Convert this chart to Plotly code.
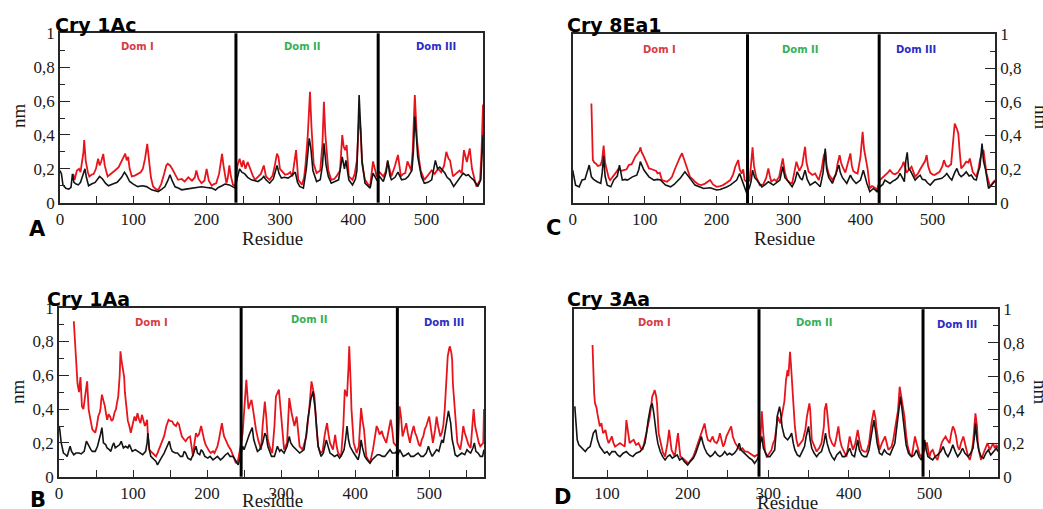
import plotly.graph_objects as go

# ---------------------------------------------------------------------------
# RMSF per residue (nm): (residue, value) pairs for each protein and run
# ---------------------------------------------------------------------------
cry1ac_black = [
    (0, 0.19), (2, 0.17), (4, 0.105), (8, 0.085), (12, 0.08), (15, 0.09), (17, 0.17), (19, 0.12),
    (22, 0.11), (25, 0.105), (28, 0.12), (31, 0.155), (34, 0.2), (36, 0.15), (39, 0.1), (43, 0.11),
    (48, 0.12), (54, 0.155), (58, 0.14), (62, 0.115), (66, 0.1), (72, 0.11), (78, 0.12), (84, 0.15),
    (88, 0.18), (91, 0.16), (95, 0.125), (100, 0.11), (106, 0.095), (112, 0.1), (118, 0.095),
    (125, 0.076), (130, 0.07), (134, 0.066), (139, 0.08), (143, 0.094), (147, 0.13), (150, 0.165),
    (153, 0.13), (157, 0.094), (162, 0.085), (166, 0.076), (172, 0.08), (179, 0.086), (186, 0.09),
    (193, 0.094), (200, 0.09), (207, 0.086), (212, 0.075), (216, 0.09), (221, 0.1), (225, 0.11),
    (231, 0.105), (236, 0.095), (239, 0.086), (242, 0.15), (245, 0.2), (248, 0.18), (252, 0.17),
    (256, 0.15), (261, 0.135), (266, 0.13), (270, 0.125), (275, 0.14), (278, 0.155), (281, 0.135),
    (286, 0.115), (291, 0.14), (296, 0.22), (299, 0.17), (302, 0.145), (306, 0.15), (311, 0.145),
    (316, 0.16), (321, 0.18), (324, 0.12), (327, 0.096), (332, 0.086), (336, 0.2), (340, 0.38),
    (342, 0.33), (345, 0.19), (350, 0.125), (355, 0.135), (358, 0.22), (360, 0.35), (363, 0.22),
    (366, 0.155), (370, 0.115), (375, 0.125), (380, 0.135), (385, 0.27), (388, 0.2), (390, 0.25),
    (394, 0.135), (399, 0.105), (403, 0.14), (405, 0.19), (407, 0.45), (408, 0.635), (410, 0.45),
    (412, 0.25), (416, 0.115), (420, 0.095), (423, 0.086), (427, 0.175), (432, 0.135), (436, 0.155),
    (441, 0.125), (445, 0.18), (447, 0.25), (450, 0.16), (452, 0.135), (457, 0.15), (461, 0.18),
    (466, 0.135), (471, 0.14), (475, 0.155), (480, 0.19), (482, 0.3), (484, 0.508), (486, 0.4),
    (488, 0.27), (493, 0.155), (497, 0.115), (502, 0.12), (507, 0.135), (512, 0.25), (515, 0.2),
    (518, 0.21), (522, 0.19), (525, 0.175), (528, 0.15), (532, 0.135), (537, 0.096), (543, 0.135),
    (547, 0.16), (550, 0.175), (554, 0.16), (557, 0.165), (560, 0.15), (564, 0.135), (570, 0.096),
    (574, 0.135), (577, 0.4),
]
cry1ac_red = [
    (18, 0.17), (20, 0.135), (23, 0.19), (26, 0.2), (28, 0.18), (30, 0.23), (32, 0.3), (33, 0.37),
    (35, 0.25), (38, 0.18), (40, 0.155), (43, 0.165), (46, 0.17), (49, 0.2), (52, 0.26), (54, 0.22),
    (56, 0.24), (59, 0.288), (61, 0.22), (65, 0.155), (70, 0.17), (75, 0.19), (80, 0.21), (84, 0.25),
    (87, 0.28), (89, 0.29), (91, 0.25), (93, 0.27), (95, 0.2), (98, 0.155), (102, 0.16), (106, 0.17),
    (110, 0.18), (113, 0.2), (116, 0.26), (119, 0.347), (121, 0.25), (124, 0.15), (127, 0.096),
    (131, 0.08), (134, 0.076), (138, 0.11), (142, 0.17), (145, 0.22), (147, 0.23), (150, 0.22),
    (153, 0.2), (157, 0.17), (161, 0.135), (166, 0.14), (170, 0.125), (175, 0.15), (180, 0.13),
    (184, 0.15), (186, 0.19), (189, 0.14), (193, 0.115), (197, 0.13), (200, 0.2), (203, 0.13),
    (207, 0.1), (210, 0.11), (213, 0.115), (217, 0.17), (220, 0.25), (221, 0.288), (223, 0.22),
    (227, 0.115), (229, 0.15), (231, 0.22), (233, 0.16), (236, 0.105), (239, 0.1), (242, 0.22),
    (245, 0.26), (248, 0.21), (250, 0.25), (253, 0.2), (256, 0.24), (259, 0.2), (263, 0.16),
    (266, 0.135), (270, 0.15), (274, 0.17), (278, 0.22), (281, 0.155), (286, 0.135), (290, 0.16),
    (293, 0.22), (296, 0.29), (298, 0.27), (300, 0.2), (304, 0.18), (307, 0.165), (311, 0.17),
    (314, 0.18), (317, 0.155), (320, 0.24), (322, 0.31), (325, 0.135), (330, 0.106), (333, 0.15),
    (335, 0.23), (338, 0.4), (341, 0.655), (343, 0.45), (346, 0.23), (350, 0.175), (355, 0.19),
    (358, 0.35), (360, 0.596), (362, 0.4), (366, 0.19), (370, 0.135), (374, 0.14), (377, 0.155),
    (382, 0.19), (385, 0.4), (387, 0.33), (389, 0.31), (391, 0.34), (394, 0.155), (399, 0.135),
    (402, 0.17), (405, 0.25), (408, 0.508), (410, 0.43), (412, 0.23), (416, 0.135), (420, 0.11),
    (423, 0.096), (427, 0.244), (430, 0.2), (432, 0.155), (436, 0.18), (441, 0.155), (444, 0.18),
    (447, 0.244), (450, 0.19), (452, 0.155), (457, 0.22), (461, 0.282), (465, 0.155), (468, 0.17),
    (471, 0.175), (474, 0.244), (479, 0.19), (481, 0.3), (484, 0.635), (487, 0.37), (490, 0.25),
    (492, 0.19), (497, 0.135), (502, 0.16), (507, 0.19), (511, 0.17), (516, 0.2), (520, 0.18),
    (524, 0.22), (527, 0.3), (530, 0.26), (532, 0.25), (536, 0.155), (541, 0.175), (545, 0.19),
    (548, 0.175), (551, 0.31), (555, 0.24), (559, 0.32), (562, 0.2), (564, 0.165), (568, 0.096),
    (573, 0.135), (575, 0.3), (577, 0.58),
]

cry8ea1_black = [
    (0, 0.195), (4, 0.106), (9, 0.096), (13, 0.136), (17, 0.14), (20, 0.18), (23, 0.225), (26, 0.155),
    (29, 0.14), (34, 0.126), (39, 0.116), (41, 0.18), (43, 0.28), (45, 0.16), (48, 0.106), (53, 0.096),
    (57, 0.136), (62, 0.16), (65, 0.225), (69, 0.136), (73, 0.14), (76, 0.136), (80, 0.15), (83, 0.155),
    (89, 0.165), (92, 0.2), (94, 0.245), (97, 0.21), (99, 0.195), (106, 0.155), (113, 0.136),
    (118, 0.14), (122, 0.136), (129, 0.106), (136, 0.096), (141, 0.11), (145, 0.126), (150, 0.15),
    (156, 0.185), (160, 0.16), (163, 0.146), (170, 0.106), (176, 0.095), (182, 0.086), (191, 0.09),
    (196, 0.085), (200, 0.077), (205, 0.08), (209, 0.085), (214, 0.095), (219, 0.106), (224, 0.12),
    (228, 0.136), (232, 0.175), (235, 0.14), (237, 0.116), (240, 0.08), (242, 0.057), (246, 0.096),
    (248, 0.13), (250, 0.195), (253, 0.15), (256, 0.136), (263, 0.096), (268, 0.11), (272, 0.126),
    (279, 0.106), (283, 0.12), (288, 0.136), (292, 0.215), (295, 0.15), (298, 0.136), (305, 0.096),
    (309, 0.13), (312, 0.185), (316, 0.15), (319, 0.136), (323, 0.195), (326, 0.14), (330, 0.106),
    (337, 0.126), (341, 0.11), (344, 0.096), (348, 0.18), (351, 0.323), (353, 0.2), (356, 0.15),
    (361, 0.116), (365, 0.16), (370, 0.225), (372, 0.18), (375, 0.15), (381, 0.116), (386, 0.165),
    (389, 0.14), (394, 0.116), (400, 0.136), (404, 0.195), (409, 0.116), (413, 0.067), (418, 0.086),
    (423, 0.067), (427, 0.096), (431, 0.11), (434, 0.136), (441, 0.116), (445, 0.13), (448, 0.136),
    (452, 0.15), (455, 0.175), (461, 0.126), (463, 0.25), (465, 0.3), (467, 0.2), (469, 0.195),
    (476, 0.136), (479, 0.15), (483, 0.165), (486, 0.14), (490, 0.136), (493, 0.12), (497, 0.106),
    (503, 0.136), (508, 0.14), (513, 0.146), (517, 0.16), (520, 0.175), (524, 0.15), (527, 0.136),
    (531, 0.18), (534, 0.205), (537, 0.17), (540, 0.156), (544, 0.17), (547, 0.185), (551, 0.16),
    (554, 0.166), (558, 0.14), (561, 0.136), (564, 0.19), (566, 0.215), (569, 0.353), (571, 0.25),
    (574, 0.195), (578, 0.086), (581, 0.1), (584, 0.116), (587, 0.13),
]
cry8ea1_red = [
    (26, 0.59), (27, 0.4), (28, 0.255), (30, 0.24), (32, 0.235), (35, 0.22), (39, 0.225), (41, 0.26),
    (43, 0.34), (45, 0.24), (47, 0.195), (50, 0.15), (52, 0.135), (55, 0.15), (57, 0.165), (60, 0.18),
    (64, 0.205), (67, 0.19), (71, 0.195), (75, 0.2), (78, 0.225), (82, 0.23), (87, 0.275), (90, 0.29),
    (93, 0.31), (94, 0.33), (96, 0.3), (99, 0.275), (102, 0.24), (106, 0.205), (110, 0.2), (113, 0.195),
    (116, 0.19), (118, 0.175), (121, 0.18), (124, 0.136), (128, 0.13), (131, 0.126), (135, 0.14),
    (138, 0.155), (142, 0.2), (145, 0.234), (149, 0.27), (152, 0.295), (154, 0.27), (156, 0.245),
    (159, 0.2), (163, 0.155), (167, 0.14), (170, 0.126), (175, 0.11), (179, 0.106), (184, 0.115),
    (188, 0.125), (191, 0.136), (195, 0.11), (200, 0.096), (205, 0.1), (209, 0.106), (214, 0.12),
    (219, 0.136), (223, 0.17), (226, 0.215), (230, 0.255), (232, 0.2), (235, 0.175), (237, 0.2),
    (239, 0.136), (243, 0.12), (246, 0.136), (248, 0.25), (250, 0.33), (252, 0.22), (255, 0.155),
    (260, 0.106), (265, 0.11), (269, 0.15), (272, 0.205), (274, 0.16), (276, 0.126), (280, 0.14),
    (283, 0.13), (287, 0.156), (292, 0.264), (295, 0.18), (298, 0.136), (302, 0.12), (305, 0.116),
    (308, 0.18), (311, 0.245), (315, 0.19), (319, 0.225), (321, 0.28), (323, 0.333), (325, 0.24),
    (328, 0.185), (333, 0.166), (337, 0.175), (342, 0.136), (346, 0.2), (349, 0.28), (351, 0.304),
    (353, 0.22), (356, 0.17), (361, 0.136), (366, 0.17), (368, 0.23), (371, 0.284), (373, 0.24),
    (375, 0.215), (379, 0.18), (383, 0.24), (386, 0.294), (388, 0.22), (390, 0.19), (393, 0.18),
    (396, 0.175), (400, 0.274), (403, 0.422), (405, 0.32), (407, 0.274), (410, 0.2), (413, 0.086),
    (416, 0.1), (418, 0.096), (423, 0.08), (427, 0.136), (431, 0.15), (434, 0.166), (438, 0.18),
    (441, 0.195), (445, 0.175), (448, 0.17), (452, 0.18), (455, 0.2), (458, 0.22), (460, 0.245),
    (464, 0.18), (468, 0.2), (471, 0.215), (476, 0.156), (480, 0.175), (483, 0.2), (486, 0.22),
    (490, 0.25), (492, 0.284), (494, 0.22), (497, 0.18), (500, 0.17), (503, 0.166), (507, 0.18),
    (510, 0.185), (514, 0.22), (516, 0.254), (519, 0.22), (522, 0.215), (526, 0.23), (529, 0.35),
    (531, 0.471), (534, 0.44), (536, 0.412), (538, 0.3), (540, 0.205), (543, 0.22), (547, 0.245),
    (550, 0.24), (552, 0.264), (556, 0.185), (561, 0.156), (564, 0.2), (566, 0.254), (569, 0.3),
    (571, 0.314), (575, 0.18), (578, 0.12), (580, 0.096), (584, 0.12), (587, 0.136),
]

cry1aa_black = [
    (0, 0.3), (1, 0.28), (3, 0.2), (6, 0.14), (9, 0.13), (11, 0.12), (13, 0.15), (15, 0.18), (17, 0.15),
    (20, 0.13), (23, 0.14), (27, 0.14), (30, 0.135), (34, 0.15), (37, 0.21), (40, 0.18), (43, 0.16),
    (45, 0.15), (49, 0.15), (52, 0.18), (54, 0.21), (56, 0.25), (58, 0.29), (60, 0.2), (63, 0.19),
    (65, 0.17), (68, 0.16), (70, 0.15), (72, 0.18), (74, 0.2), (76, 0.17), (79, 0.18), (82, 0.19),
    (84, 0.21), (87, 0.17), (90, 0.18), (93, 0.17), (95, 0.19), (99, 0.15), (103, 0.16), (106, 0.15),
    (110, 0.14), (113, 0.13), (117, 0.15), (119, 0.2), (120, 0.258), (122, 0.16), (124, 0.12),
    (128, 0.1), (131, 0.09), (133, 0.07), (136, 0.09), (138, 0.11), (142, 0.14), (145, 0.17),
    (149, 0.21), (151, 0.17), (153, 0.15), (157, 0.14), (160, 0.14), (164, 0.12), (167, 0.12),
    (169, 0.15), (171, 0.14), (174, 0.11), (178, 0.1), (181, 0.13), (185, 0.18), (187, 0.14),
    (190, 0.13), (192, 0.16), (194, 0.15), (197, 0.12), (201, 0.11), (204, 0.12), (208, 0.1),
    (211, 0.11), (214, 0.12), (218, 0.1), (221, 0.11), (225, 0.13), (228, 0.14), (231, 0.12),
    (235, 0.12), (238, 0.1), (242, 0.07), (245, 0.12), (248, 0.18), (250, 0.16), (253, 0.2),
    (257, 0.25), (261, 0.29), (263, 0.22), (265, 0.19), (268, 0.15), (271, 0.16), (275, 0.2),
    (278, 0.258), (280, 0.24), (282, 0.18), (284, 0.16), (287, 0.12), (291, 0.12), (295, 0.18),
    (298, 0.15), (300, 0.16), (304, 0.14), (308, 0.18), (311, 0.238), (313, 0.2), (316, 0.18),
    (320, 0.16), (325, 0.14), (328, 0.15), (331, 0.16), (334, 0.25), (336, 0.337), (340, 0.455),
    (343, 0.505), (346, 0.4), (348, 0.3), (350, 0.18), (354, 0.12), (357, 0.14), (361, 0.218),
    (363, 0.18), (366, 0.14), (369, 0.13), (372, 0.12), (376, 0.13), (379, 0.11), (382, 0.13),
    (385, 0.16), (387, 0.22), (389, 0.3), (391, 0.22), (393, 0.18), (398, 0.14), (401, 0.12),
    (404, 0.1), (406, 0.14), (408, 0.218), (410, 0.17), (413, 0.12), (416, 0.1), (420, 0.08),
    (423, 0.1), (427, 0.12), (430, 0.13), (433, 0.13), (437, 0.12), (440, 0.12), (444, 0.14),
    (447, 0.16), (450, 0.14), (454, 0.14), (456, 0.15), (458, 0.13), (460, 0.16), (463, 0.13),
    (465, 0.12), (469, 0.13), (472, 0.14), (475, 0.12), (479, 0.12), (482, 0.13), (485, 0.14),
    (489, 0.12), (492, 0.12), (496, 0.14), (499, 0.18), (501, 0.15), (504, 0.12), (507, 0.14),
    (510, 0.16), (513, 0.15), (517, 0.218), (519, 0.2), (521, 0.258), (523, 0.3), (526, 0.39),
    (529, 0.317), (531, 0.22), (533, 0.18), (535, 0.13), (538, 0.12), (541, 0.13), (544, 0.14),
    (548, 0.13), (551, 0.16), (553, 0.15), (556, 0.14), (559, 0.17), (561, 0.2), (563, 0.15),
    (566, 0.14), (569, 0.12), (572, 0.12), (574, 0.16),
]
cry1aa_red = [
    (20, 0.92), (21, 0.85), (22, 0.77), (23, 0.65), (24, 0.59), (25, 0.55), (27, 0.5), (28, 0.55),
    (29, 0.59), (30, 0.5), (31, 0.416), (33, 0.4), (35, 0.45), (36, 0.5), (38, 0.564), (39, 0.48),
    (40, 0.4), (42, 0.35), (45, 0.28), (47, 0.27), (49, 0.26), (51, 0.3), (53, 0.356), (55, 0.38),
    (56, 0.4), (57, 0.45), (58, 0.485), (60, 0.45), (62, 0.416), (64, 0.36), (65, 0.337), (67, 0.37),
    (69, 0.356), (71, 0.33), (73, 0.34), (75, 0.38), (77, 0.4), (78, 0.43), (80, 0.475), (82, 0.6),
    (83, 0.742), (84, 0.7), (86, 0.643), (88, 0.59), (89, 0.5), (91, 0.4), (93, 0.33), (95, 0.3),
    (97, 0.26), (99, 0.3), (101, 0.34), (102, 0.356), (104, 0.33), (106, 0.376), (108, 0.34),
    (110, 0.317), (112, 0.366), (114, 0.33), (116, 0.3), (118, 0.32), (119, 0.337), (120, 0.25),
    (122, 0.16), (124, 0.15), (126, 0.14), (128, 0.13), (131, 0.12), (133, 0.14), (135, 0.16),
    (138, 0.2), (140, 0.22), (142, 0.24), (145, 0.3), (148, 0.337), (150, 0.33), (153, 0.327),
    (155, 0.31), (158, 0.3), (160, 0.32), (162, 0.31), (164, 0.27), (166, 0.238), (169, 0.22),
    (171, 0.21), (174, 0.23), (177, 0.238), (179, 0.18), (181, 0.12), (183, 0.2), (185, 0.258),
    (187, 0.24), (189, 0.25), (192, 0.3), (194, 0.25), (196, 0.218), (198, 0.19), (201, 0.16),
    (203, 0.15), (205, 0.14), (208, 0.15), (210, 0.14), (212, 0.16), (214, 0.18), (216, 0.22),
    (218, 0.28), (220, 0.317), (222, 0.26), (223, 0.238), (225, 0.22), (227, 0.198), (229, 0.18),
    (232, 0.16), (235, 0.12), (237, 0.1), (239, 0.08), (242, 0.1), (244, 0.14), (246, 0.2),
    (248, 0.258), (250, 0.4), (253, 0.574), (255, 0.45), (256, 0.4), (258, 0.43), (260, 0.455),
    (262, 0.4), (264, 0.337), (266, 0.28), (269, 0.218), (271, 0.18), (273, 0.16), (275, 0.3),
    (278, 0.445), (280, 0.35), (282, 0.218), (285, 0.17), (288, 0.14), (291, 0.3), (293, 0.475),
    (297, 0.515), (300, 0.337), (302, 0.24), (304, 0.16), (308, 0.2), (310, 0.38), (311, 0.465),
    (314, 0.38), (316, 0.337), (318, 0.3), (321, 0.356), (323, 0.25), (325, 0.18), (329, 0.16),
    (332, 0.2), (334, 0.238), (336, 0.32), (338, 0.4), (341, 0.564), (343, 0.52), (345, 0.475),
    (348, 0.277), (350, 0.18), (353, 0.14), (356, 0.15), (359, 0.25), (362, 0.317), (364, 0.25),
    (366, 0.2), (370, 0.16), (373, 0.248), (375, 0.18), (377, 0.14), (381, 0.12), (384, 0.3),
    (386, 0.515), (389, 0.475), (391, 0.65), (392, 0.771), (394, 0.55), (395, 0.4), (398, 0.2),
    (402, 0.14), (405, 0.18), (407, 0.35), (408, 0.406), (410, 0.33), (412, 0.277), (415, 0.12),
    (420, 0.08), (424, 0.16), (427, 0.25), (429, 0.3), (431, 0.28), (433, 0.25), (436, 0.27),
    (438, 0.238), (442, 0.2), (445, 0.26), (448, 0.337), (450, 0.28), (452, 0.2), (456, 0.18),
    (458, 0.2), (460, 0.416), (462, 0.35), (464, 0.238), (467, 0.28), (469, 0.317), (471, 0.26),
    (474, 0.2), (476, 0.25), (479, 0.3), (481, 0.26), (483, 0.238), (486, 0.19), (488, 0.18),
    (490, 0.22), (492, 0.238), (494, 0.28), (496, 0.3), (500, 0.356), (502, 0.28), (505, 0.2),
    (508, 0.28), (510, 0.356), (512, 0.3), (515, 0.238), (517, 0.26), (519, 0.3), (521, 0.4),
    (522, 0.495), (524, 0.62), (525, 0.712), (527, 0.76), (528, 0.771), (530, 0.73), (531, 0.692),
    (532, 0.55), (534, 0.416), (536, 0.3), (538, 0.2), (540, 0.18), (542, 0.16), (544, 0.22),
    (546, 0.3), (548, 0.26), (551, 0.22), (553, 0.19), (556, 0.17), (558, 0.3), (560, 0.4),
    (562, 0.3), (565, 0.238), (567, 0.2), (569, 0.18), (572, 0.2), (573, 0.2), (574, 0.4),
]

cry3aa_black = [
    (60, 0.42), (61, 0.33), (63, 0.22), (65, 0.19), (67, 0.18), (70, 0.17), (73, 0.15), (76, 0.17),
    (79, 0.18), (81, 0.22), (83, 0.26), (86, 0.28), (88, 0.22), (91, 0.18), (94, 0.16), (97, 0.14),
    (100, 0.15), (103, 0.13), (106, 0.15), (110, 0.15), (113, 0.13), (116, 0.12), (120, 0.14),
    (124, 0.15), (128, 0.13), (132, 0.12), (136, 0.14), (141, 0.15), (144, 0.17), (147, 0.2),
    (149, 0.26), (151, 0.338), (154, 0.418), (156, 0.438), (158, 0.38), (159, 0.33), (161, 0.26),
    (163, 0.2), (166, 0.15), (169, 0.12), (172, 0.1), (175, 0.12), (178, 0.13), (181, 0.11),
    (184, 0.12), (187, 0.13), (190, 0.1), (193, 0.11), (196, 0.09), (200, 0.07), (203, 0.09),
    (207, 0.11), (210, 0.14), (213, 0.18), (217, 0.24), (219, 0.2), (221, 0.17), (224, 0.14),
    (228, 0.12), (231, 0.13), (234, 0.15), (237, 0.13), (240, 0.12), (243, 0.13), (246, 0.15),
    (249, 0.13), (252, 0.14), (255, 0.13), (258, 0.14), (261, 0.16), (264, 0.2), (266, 0.16),
    (270, 0.14), (273, 0.13), (277, 0.11), (280, 0.1), (283, 0.08), (286, 0.1), (288, 0.12),
    (290, 0.2), (292, 0.24), (294, 0.17), (296, 0.15), (299, 0.12), (302, 0.12), (305, 0.14),
    (308, 0.16), (310, 0.28), (311, 0.358), (314, 0.418), (316, 0.36), (317, 0.3), (320, 0.24),
    (322, 0.23), (324, 0.22), (327, 0.24), (329, 0.26), (331, 0.2), (333, 0.16), (336, 0.13),
    (339, 0.12), (342, 0.15), (345, 0.18), (347, 0.24), (350, 0.3), (352, 0.22), (354, 0.17),
    (357, 0.14), (360, 0.12), (363, 0.14), (366, 0.15), (369, 0.2), (371, 0.26), (373, 0.2),
    (376, 0.15), (379, 0.12), (382, 0.1), (385, 0.13), (389, 0.15), (392, 0.12), (395, 0.12),
    (398, 0.14), (401, 0.17), (404, 0.13), (407, 0.12), (409, 0.17), (411, 0.22), (413, 0.16),
    (416, 0.13), (419, 0.12), (422, 0.12), (425, 0.16), (428, 0.24), (431, 0.338), (433, 0.28),
    (435, 0.2), (438, 0.14), (441, 0.13), (444, 0.16), (447, 0.14), (451, 0.13), (454, 0.16),
    (457, 0.2), (459, 0.28), (461, 0.358), (464, 0.478), (466, 0.4), (467, 0.358), (469, 0.25),
    (471, 0.19), (474, 0.14), (478, 0.12), (481, 0.13), (484, 0.16), (487, 0.12), (490, 0.1),
    (492, 0.14), (494, 0.22), (496, 0.16), (498, 0.12), (501, 0.11), (504, 0.1), (507, 0.12),
    (510, 0.13), (514, 0.15), (517, 0.18), (520, 0.14), (523, 0.12), (526, 0.15), (529, 0.19),
    (532, 0.15), (535, 0.12), (538, 0.14), (541, 0.17), (544, 0.14), (548, 0.12), (551, 0.14),
    (554, 0.17), (556, 0.25), (557, 0.318), (559, 0.22), (561, 0.16), (564, 0.12), (567, 0.11),
    (570, 0.14), (573, 0.16), (576, 0.13), (579, 0.15), (583, 0.17), (585, 0.15),
]
cry3aa_red = [
    (82, 0.786), (83, 0.6), (84, 0.5), (85, 0.44), (87, 0.41), (88, 0.378), (90, 0.33), (91, 0.3),
    (93, 0.32), (95, 0.26), (97, 0.27), (98, 0.28), (100, 0.23), (102, 0.2), (104, 0.22), (106, 0.24),
    (108, 0.2), (110, 0.18), (113, 0.19), (116, 0.2), (119, 0.19), (122, 0.18), (124, 0.338),
    (126, 0.25), (128, 0.2), (130, 0.21), (133, 0.22), (136, 0.19), (139, 0.2), (142, 0.17),
    (144, 0.16), (146, 0.2), (148, 0.24), (151, 0.3), (153, 0.358), (155, 0.43), (156, 0.478),
    (158, 0.5), (159, 0.517), (161, 0.48), (162, 0.438), (164, 0.26), (167, 0.2), (169, 0.15),
    (172, 0.12), (175, 0.2), (177, 0.28), (179, 0.2), (180, 0.16), (184, 0.12), (186, 0.18),
    (188, 0.26), (190, 0.16), (191, 0.12), (194, 0.11), (196, 0.1), (199, 0.09), (201, 0.08),
    (204, 0.1), (207, 0.12), (210, 0.16), (213, 0.2), (215, 0.23), (217, 0.26), (219, 0.28),
    (221, 0.318), (223, 0.26), (225, 0.22), (228, 0.21), (231, 0.24), (233, 0.21), (236, 0.2),
    (238, 0.22), (240, 0.26), (242, 0.22), (244, 0.18), (246, 0.2), (248, 0.24), (251, 0.27),
    (254, 0.3), (256, 0.24), (259, 0.2), (262, 0.18), (265, 0.16), (268, 0.17), (271, 0.15),
    (274, 0.15), (277, 0.14), (280, 0.13), (283, 0.12), (286, 0.13), (288, 0.13), (290, 0.2),
    (291, 0.3), (292, 0.39), (294, 0.25), (296, 0.15), (298, 0.12), (300, 0.13), (304, 0.16),
    (306, 0.2), (308, 0.22), (310, 0.28), (312, 0.358), (315, 0.318), (318, 0.398), (320, 0.45),
    (322, 0.577), (324, 0.637), (325, 0.6), (327, 0.746), (328, 0.68), (330, 0.557), (331, 0.45),
    (333, 0.3), (335, 0.22), (337, 0.18), (340, 0.2), (343, 0.22), (346, 0.28), (348, 0.36),
    (351, 0.438), (352, 0.4), (354, 0.22), (357, 0.18), (360, 0.15), (363, 0.17), (366, 0.2),
    (369, 0.3), (370, 0.4), (372, 0.438), (374, 0.35), (376, 0.24), (379, 0.2), (382, 0.18),
    (384, 0.22), (387, 0.3), (389, 0.22), (391, 0.18), (394, 0.15), (397, 0.12), (399, 0.18),
    (401, 0.24), (403, 0.2), (405, 0.16), (408, 0.2), (411, 0.28), (413, 0.22), (416, 0.16),
    (419, 0.15), (422, 0.15), (425, 0.2), (428, 0.318), (431, 0.398), (433, 0.35), (434, 0.3),
    (436, 0.22), (438, 0.16), (441, 0.2), (445, 0.24), (447, 0.2), (449, 0.16), (453, 0.18),
    (455, 0.22), (457, 0.28), (459, 0.33), (461, 0.398), (463, 0.537), (465, 0.478), (467, 0.4),
    (469, 0.358), (471, 0.25), (473, 0.18), (476, 0.13), (478, 0.12), (480, 0.18), (482, 0.24),
    (484, 0.2), (486, 0.16), (488, 0.13), (490, 0.12), (492, 0.14), (494, 0.16), (496, 0.2),
    (497, 0.2), (499, 0.14), (500, 0.12), (502, 0.15), (504, 0.16), (507, 0.12), (510, 0.1),
    (512, 0.14), (515, 0.2), (517, 0.22), (520, 0.24), (522, 0.22), (525, 0.2), (527, 0.26),
    (529, 0.3), (531, 0.28), (533, 0.24), (535, 0.18), (537, 0.16), (539, 0.2), (542, 0.24),
    (544, 0.2), (546, 0.16), (548, 0.12), (550, 0.1), (552, 0.14), (554, 0.2), (556, 0.3),
    (557, 0.378), (559, 0.3), (560, 0.2), (562, 0.14), (564, 0.1), (567, 0.14), (570, 0.18),
    (572, 0.2), (575, 0.16), (577, 0.18), (579, 0.2), (581, 0.17), (583, 0.19), (585, 0.17),
]

# Domain boundaries (residue numbers) of each protein
cry1ac_domains = [240, 434]
cry8ea1_domains = [243, 426]
cry1aa_domains = [246, 457]
cry3aa_domains = [288.5, 492]

y_ticks = [0, 0.2, 0.4, 0.6, 0.8, 1]
y_tick_text = ["0", "0,2", "0,4", "0,6", "0,8", "1"]
x_ticks = [0, 100, 200, 300, 400, 500]
x_tick_text = ["0", "100", "200", "300", "400", "500"]

# ---------------------------------------------------------------------------
W, H = 1043, 509
RED = "#e8141c"
BLACK = "#141414"
FRAME = "#262626"
SERIF = "Liberation Serif, Times New Roman, serif"
SANS = "DejaVu Sans, Verdana, sans-serif"


def fx(p):
    return p / W


def fy(p):
    return 1 - p / H


panels = [
    dict(name="Cry 1Ac", letter="A", black=cry1ac_black, red=cry1ac_red, doms=cry1ac_domains,
         box=(60, 33.3, 483, 202.7), xr=[0, 577], side="left",
         title_xy=(53, 25), letter_xy=(37, 229), residue_xy=(272, 238), nm_xy=(18, 116),
         dom_xy=[(137, 46), (302, 46), (436, 47)]),
    dict(name="Cry 8Ea1", letter="C", black=cry8ea1_black, red=cry8ea1_red, doms=cry8ea1_domains,
         box=(572.7, 34.3, 995, 203), xr=[0, 587], side="right",
         title_xy=(565, 25), letter_xy=(553, 228), residue_xy=(784, 238), nm_xy=(1041, 117),
         dom_xy=[(659, 49), (800, 49), (916, 49)]),
    dict(name="Cry 1Aa", letter="B", black=cry1aa_black, red=cry1aa_red, doms=cry1aa_domains,
         box=(59, 307.7, 484, 476.7), xr=[0, 574], side="left",
         title_xy=(45, 299), letter_xy=(38, 500), residue_xy=(272, 500), nm_xy=(17, 392),
         dom_xy=[(151, 322), (309, 319), (444, 322)]),
    dict(name="Cry 3Aa", letter="D", black=cry3aa_black, red=cry3aa_red, doms=cry3aa_domains,
         box=(574, 309.2, 998, 476.7), xr=[59, 585], side="right",
         title_xy=(565, 299), letter_xy=(562, 497), residue_xy=(787, 502), nm_xy=(1041, 392),
         dom_xy=[(654, 322), (814, 322), (957, 324)]),
]

DOM_NAMES = ["Dom I", "Dom II", "Dom III"]
DOM_COLORS = ["#d83a44", "#36b056", "#2b2bc4"]

fig = go.Figure()
shapes = []
annotations = []
layout_axes = {}

for i, p in enumerate(panels, start=1):
    xa = "x" if i == 1 else f"x{i}"
    ya = "y" if i == 1 else f"y{i}"
    x0, y0, x1, y1 = p["box"]

    for series, color, width in ((p["red"], RED, 1.8), (p["black"], BLACK, 1.6)):
        fig.add_trace(go.Scatter(
            x=[r for r, _ in series], y=[v for _, v in series],
            mode="lines", line=dict(color=color, width=width),
            xaxis=xa, yaxis=ya, showlegend=False, hoverinfo="skip",
        ))

    minor_x = [v for v in range(50, 600, 100) if p["xr"][0] <= v <= p["xr"][1]]
    layout_axes[f"xaxis{'' if i == 1 else i}"] = dict(
        domain=[fx(x0), fx(x1)], range=p["xr"], anchor=ya, automargin=False,
        showline=True, linecolor=FRAME, linewidth=1.5, mirror=True,
        showgrid=False, zeroline=False,
        ticks="inside", ticklen=7, tickwidth=1.3, tickcolor=FRAME,
        tickmode="array", tickvals=x_ticks, ticktext=x_tick_text,
        tickfont=dict(family=SERIF, size=17, color="#1a1a1a"),
        minor=dict(tickmode="array", tickvals=minor_x, ticks="inside",
                   ticklen=7, tickwidth=1.3, tickcolor=FRAME),
    )
    layout_axes[f"yaxis{'' if i == 1 else i}"] = dict(
        domain=[fy(y1), fy(y0)], range=[0, 1], anchor=xa, side=p["side"], automargin=False,
        showline=True, linecolor=FRAME, linewidth=1.5, mirror=True,
        showgrid=False, zeroline=False,
        ticks="inside", ticklen=10, tickwidth=1.3, tickcolor=FRAME,
        tickmode="array", tickvals=y_ticks, ticktext=y_tick_text,
        tickfont=dict(family=SERIF, size=17, color="#1a1a1a"),
        minor=dict(tickmode="array", tickvals=[0.1, 0.3, 0.5, 0.7, 0.9], ticks="inside",
                   ticklen=5, tickwidth=1.3, tickcolor=FRAME),
    )

    # domain boundaries
    for d in p["doms"]:
        shapes.append(dict(type="line", xref=xa, yref=f"{ya} domain", x0=d, x1=d, y0=0, y1=1,
                           line=dict(color="#000000", width=3)))

    # domain names
    for (dx, dy), txt, col in zip(p["dom_xy"], DOM_NAMES, DOM_COLORS):
        annotations.append(dict(x=fx(dx), y=fy(dy), xref="paper", yref="paper", text=f"<b>{txt}</b>",
                                showarrow=False, xanchor="center", yanchor="middle",
                                font=dict(family=SANS, size=10, color=col)))

    tx, ty = p["title_xy"]
    annotations.append(dict(x=fx(tx), y=fy(ty), xref="paper", yref="paper", text=f"<b>{p['name']}</b>",
                            showarrow=False, xanchor="left", yanchor="middle",
                            font=dict(family=SANS, size=19, color="#000000")))
    lx, ly = p["letter_xy"]
    annotations.append(dict(x=fx(lx), y=fy(ly), xref="paper", yref="paper", text=f"<b>{p['letter']}</b>",
                            showarrow=False, xanchor="center", yanchor="middle",
                            font=dict(family=SANS, size=21, color="#000000")))
    rx, ry = p["residue_xy"]
    annotations.append(dict(x=fx(rx), y=fy(ry), xref="paper", yref="paper", text="Residue",
                            showarrow=False, xanchor="center", yanchor="middle",
                            font=dict(family=SERIF, size=19, color="#1a1a1a")))
    nx, ny = p["nm_xy"]
    annotations.append(dict(x=fx(nx), y=fy(ny), xref="paper", yref="paper", text="nm",
                            showarrow=False, xanchor="center", yanchor="middle",
                            textangle=-90 if p["side"] == "left" else 90,
                            font=dict(family=SERIF, size=19, color="#1a1a1a")))

fig.update_layout(
    width=W, height=H, margin=dict(l=0, r=0, t=0, b=0, pad=0),
    paper_bgcolor="white", plot_bgcolor="white",
    shapes=shapes, annotations=annotations, showlegend=False,
    **layout_axes,
)

fig.write_html("out.html")
